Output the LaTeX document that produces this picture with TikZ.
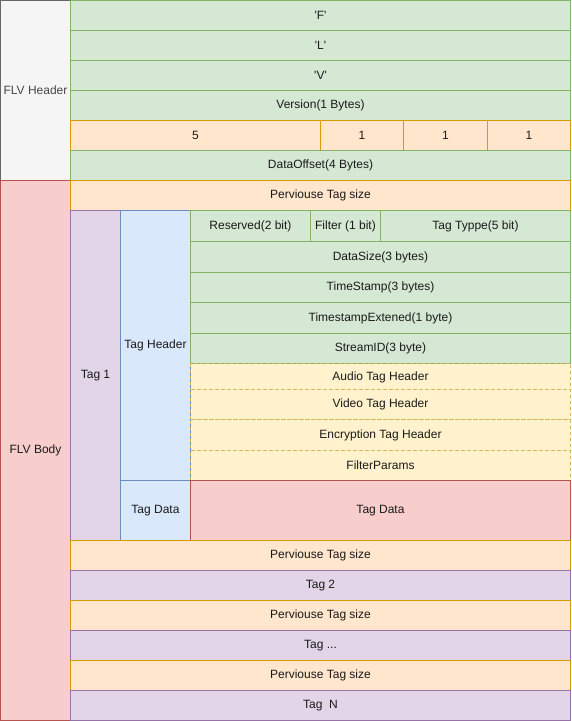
\documentclass[tikz,border=0pt]{standalone}
\usepackage{fontspec}
\setmainfont{Liberation Sans}
\begin{document}
\definecolor{grnF}{HTML}{D5E8D4}\definecolor{grnD}{HTML}{82B366}
\definecolor{orgF}{HTML}{FFE6CC}\definecolor{orgD}{HTML}{D79B00}
\definecolor{gryF}{HTML}{F5F5F5}\definecolor{gryD}{HTML}{666666}
\definecolor{redF}{HTML}{F8CECC}\definecolor{redD}{HTML}{B85450}
\definecolor{purF}{HTML}{E1D5E7}\definecolor{purD}{HTML}{9673A6}
\definecolor{bluF}{HTML}{DAE8FC}\definecolor{bluD}{HTML}{6C8EBF}
\definecolor{ylwF}{HTML}{FFF2CC}\definecolor{ylwD}{HTML}{D6B656}
\definecolor{txt}{HTML}{1A1A1A}
\begin{tikzpicture}[x=1pt,y=-1pt,
  every node/.style={inner sep=0pt,outer sep=0pt,anchor=north west,
    font=\fontsize{12}{14}\selectfont,text=txt,line width=1pt},
  box/.style 2 args={minimum width=#1pt,minimum height=#2pt},
  grn/.style={fill=grnF,draw=grnD},
  org/.style={fill=orgF,draw=orgD},
  gry/.style={fill=gryF,draw=gryD,text=gryD!70!black},
  red/.style={fill=redF,draw=redD},
  pur/.style={fill=purF,draw=purD},
  blu/.style={fill=bluF,draw=bluD},
  ylw/.style={fill=ylwF,draw=ylwD,dash pattern=on 3pt off 3pt}]
\useasboundingbox (0,0) rectangle (571,721);
% ---- FLV header ----
\node[gry,box={70}{180}] (hdr) at (0.5,0.5) {FLV Header};
\node[grn,box={500}{30}] (sigF) at (70.5,0.5) {\textquotesingle F\textquotesingle};
\node[grn,box={500}{30}] (sigL) at (70.5,30.5) {\textquotesingle L\textquotesingle};
\node[grn,box={500}{30}] (sigV) at (70.5,60.5) {\textquotesingle V\textquotesingle};
\node[grn,box={500}{30}] (ver) at (70.5,90.5) {Version(1 Bytes)};
\node[org,box={250}{30}] (fl5) at (70.5,120.5) {5};
\node[org,box={83}{30}] (fl1a) at (320.5,120.5) {1};
\node[org,box={84}{30}] (fl1b) at (403.5,120.5) {1};
\node[org,box={83}{30}] (fl1c) at (487.5,120.5) {1};
\node[grn,box={500}{30}] (doff) at (70.5,150.5) {DataOffset(4 Bytes)};
% ---- FLV body ----
\node[red,box={70}{540}] (body) at (0.5,180.5) {FLV Body};
\node[org,box={500}{30}] (pts0) at (70.5,180.5) {Perviouse Tag size};
\node[pur,box={50}{330}] (tag1) at (70.5,210.5) {Tag 1};
\node[blu,box={70}{270}] (thdr) at (120.5,210.5) {Tag Header};
\node[grn,box={120}{31}] (resv) at (190.5,210.5) {Reserved(2 bit)};
\node[grn,box={70}{31}] (filt) at (310.5,210.5) {Filter (1 bit)};
\node[grn,box={190}{31}] (ttyp) at (380.5,210.5) {Tag Typpe(5 bit)};
\node[grn,box={380}{31}] (dsz) at (190.5,241.5) {DataSize(3 bytes)};
\node[grn,box={380}{30}] (tms) at (190.5,272.5) {TimeStamp(3 bytes)};
\node[grn,box={380}{31}] (tmx) at (190.5,302.5) {TimestampExtened(1 byte)};
\node[grn,box={380}{30}] (sid) at (190.5,333.5) {StreamID(3 byte)};
\node[ylw,box={380}{26},text depth=-1pt] (aud) at (190.5,363.5) {Audio Tag Header};
\node[ylw,box={380}{30}] (vid) at (190.5,389.5) {Video Tag Header};
\node[ylw,box={380}{31}] (enc) at (190.5,419.5) {Encryption Tag Header};
\node[ylw,box={380}{30}] (fpar) at (190.5,450.5) {FilterParams};
\node[blu,box={70}{60}] (tdl) at (120.5,480.5) {Tag Data};
\node[red,box={380}{60}] (tdat) at (190.5,480.5) {Tag Data};
\node[org,box={500}{30}] (pts1) at (70.5,540.5) {Perviouse Tag size};
\node[pur,box={500}{30}] (tag2) at (70.5,570.5) {Tag 2};
\node[org,box={500}{30}] (pts2) at (70.5,600.5) {Perviouse Tag size};
\node[pur,box={500}{30}] (tagm) at (70.5,630.5) {Tag ...};
\node[org,box={500}{30}] (pts3) at (70.5,660.5) {Perviouse Tag size};
\node[pur,box={500}{30}] (tagn) at (70.5,690.5) {Tag\ \ N};
\end{tikzpicture}
\end{document}
